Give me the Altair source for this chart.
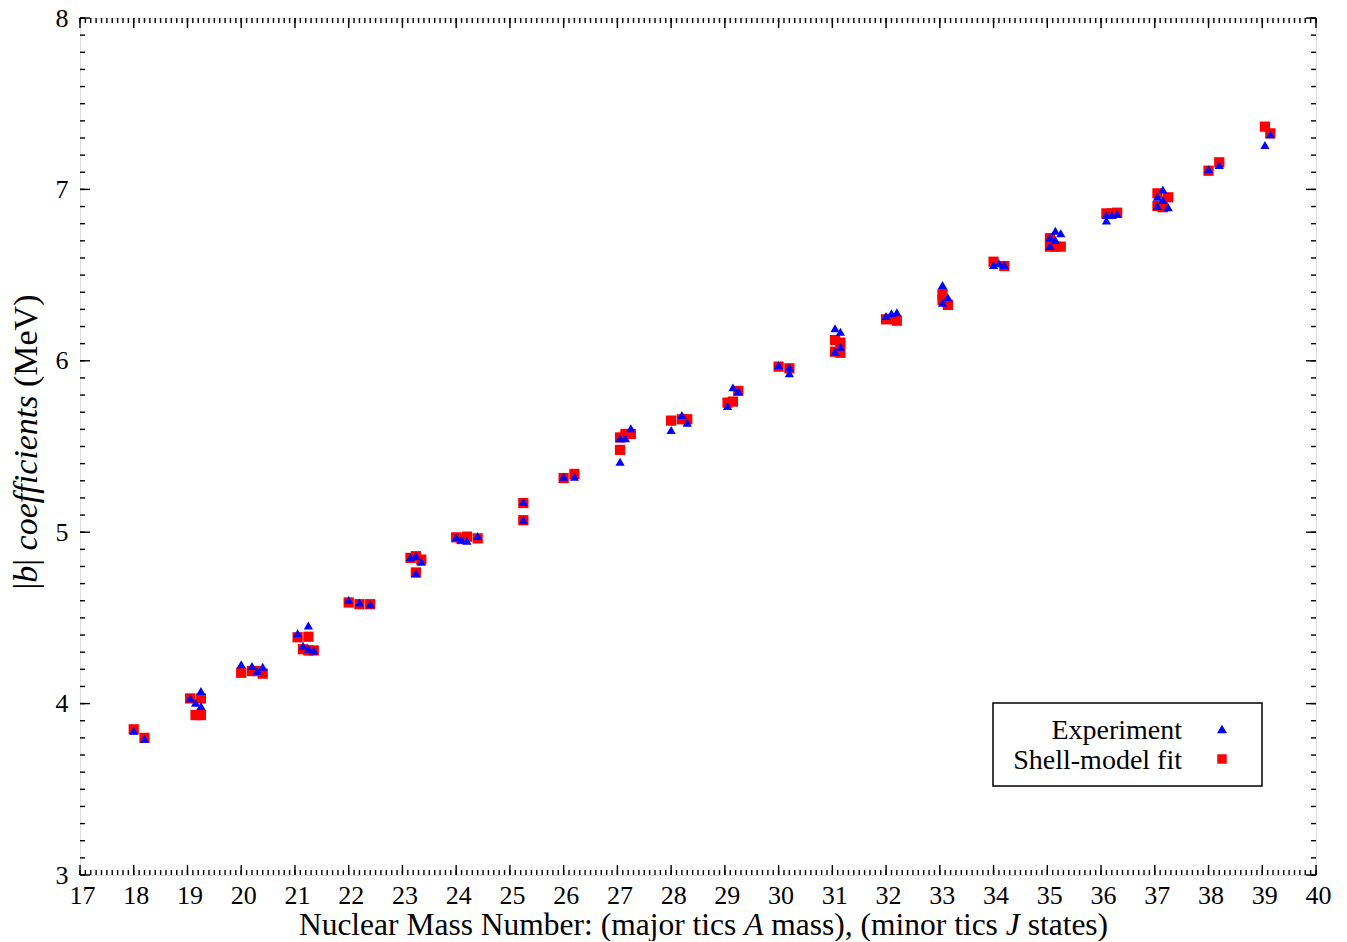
import altair as alt
import pandas as pd

# ---------------- data ----------------
exp_x = [18.0, 18.2,
         19.05, 19.15, 19.25, 19.25,
         20.0, 20.2, 20.3, 20.4,
         21.05, 21.15, 21.25, 21.25, 21.35,
         22.0, 22.2, 22.4,
         23.15, 23.25, 23.35, 23.25,
         24.0, 24.1, 24.2, 24.4,
         25.25, 25.25,
         26.0, 26.2,
         27.05, 27.15, 27.25, 27.05,
         28.0, 28.2, 28.3,
         29.05, 29.15, 29.25,
         30.0, 30.2, 30.2,
         31.05, 31.15, 31.05, 31.15,
         32.0, 32.1, 32.2,
         33.05, 33.15, 33.05,
         34.0, 34.1, 34.2,
         35.05, 35.15, 35.25, 35.05, 35.15,
         36.1, 36.2, 36.3, 36.1,
         37.05, 37.15, 37.15, 37.25, 37.05,
         38.0, 38.2,
         39.05, 39.15]
exp_y = [3.842, 3.795,
         4.031, 4.005, 4.073, 3.986,
         4.230, 4.220, 4.190, 4.215,
         4.410, 4.338, 4.455, 4.320, 4.310,
         4.605, 4.590, 4.580,
         4.854, 4.861, 4.828, 4.760,
         4.970, 4.958, 4.950, 4.978,
         5.178, 5.071,
         5.324, 5.324,
         5.548, 5.548, 5.606, 5.411,
         5.596, 5.684, 5.639,
         5.736, 5.845, 5.824,
         5.975, 5.962, 5.927,
         6.190, 6.170, 6.053, 6.082,
         6.261, 6.277, 6.283,
         6.442, 6.370, 6.339,
         6.559, 6.569, 6.559,
         6.720, 6.759, 6.744, 6.670, 6.705,
         6.818, 6.851, 6.856, 6.851,
         6.957, 7.000, 6.938, 6.896, 6.903,
         7.117, 7.142,
         7.259, 7.321]

fit_x = [18.0, 18.2,
         19.05, 19.15, 19.25, 19.25,
         20.0, 20.2, 20.3, 20.4,
         21.05, 21.25, 21.15, 21.25, 21.35,
         22.0, 22.2, 22.4,
         23.15, 23.25, 23.35, 23.25,
         24.0, 24.1, 24.2, 24.4,
         25.25, 25.25,
         26.0, 26.2,
         27.05, 27.15, 27.25, 27.05,
         28.0, 28.2, 28.3,
         29.05, 29.15, 29.25,
         30.0, 30.2,
         31.05, 31.15, 31.05, 31.15,
         32.0, 32.1, 32.2,
         33.05, 33.15, 33.05,
         34.0, 34.2,
         35.05, 35.25, 35.05, 35.15,
         36.1, 36.2, 36.3,
         37.05, 37.25, 37.05, 37.15,
         38.0, 38.2,
         39.05, 39.15]
fit_y = [3.850, 3.800,
         4.030, 3.933, 3.933, 4.030,
         4.180, 4.190, 4.190, 4.175,
         4.387, 4.390, 4.317, 4.310, 4.310,
         4.590, 4.580, 4.580,
         4.850, 4.860, 4.840, 4.765,
         4.970, 4.960, 4.974, 4.964,
         5.170, 5.070,
         5.316, 5.340,
         5.553, 5.573, 5.573, 5.480,
         5.651, 5.659, 5.659,
         5.756, 5.762, 5.824,
         5.966, 5.956,
         6.121, 6.106, 6.053, 6.047,
         6.242, 6.245, 6.234,
         6.390, 6.326, 6.355,
         6.578, 6.553,
         6.666, 6.666, 6.715, 6.666,
         6.860, 6.860, 6.864,
         6.977, 6.954, 6.903, 6.896,
         7.109, 7.158,
         7.366, 7.327]

x_major = list(range(17, 41))
x_minor = [round(17 + i * 0.1, 2) for i in range(231)]
y_major = [3, 4, 5, 6, 7, 8]
y_minor = [round(3 + i * 0.1, 2) for i in range(51)]

legend_labels = ["Experiment", "Shell-model fit"]

# title pieces: (text, italic?)
x_title_parts = [("Nuclear Mass Number: (major tics ", False), ("A", True),
                 (" mass), (minor tics ", False), ("J", True), (" states)", False)]
y_title_parts = [("|", False), ("b", True), ("| ", False),
                 ("coefficients", True), (" (MeV)", False)]

# ---------------- chart ----------------
W, H = 1236, 857
FONT = "Liberation Serif"
FS = 26

# Times-compatible advance widths (em) for laying out mixed-style titles
REG = {'N': .722, 'u': .5, 'c': .444, 'l': .278, 'e': .444, 'a': .444, 'r': .333,
       ' ': .25, 'M': .889, 's': .389, 'm': .778, 'b': .5, ':': .278, '(': .333,
       ')': .333, 'j': .278, 'o': .5, 't': .278, 'i': .278, ',': .25, 'n': .5,
       '|': .2, 'V': .722}
ITA = {'A': .611, 'J': .444, 'b': .5, 'c': .444, 'o': .5, 'e': .444, 'f': .278,
       'i': .278, 'n': .5, 't': .278, 's': .389, ' ': .25}


def text_width(s, italic, size):
    table = ITA if italic else REG
    return sum(table.get(ch, 0.5) for ch in s) * size


def segments(parts, size):
    """Split parts into (stripped text, italic, offset) with spaces kept as offsets."""
    out = []
    pos = 0.0
    for t, it in parts:
        lead = len(t) - len(t.lstrip(" "))
        core = t.strip(" ")
        trail = len(t) - len(t.rstrip(" "))
        pos += text_width(" " * lead, False, size)
        out.append((core, it, pos))
        pos += text_width(core, it, size) + text_width(" " * trail, False, size)
    return out, pos


xs = alt.Scale(domain=[17, 40], nice=False, zero=False)
ys = alt.Scale(domain=[3, 8], nice=False, zero=False)

xaxis = alt.Axis(values=x_major, ticks=False, domain=False, grid=False,
                 labelFont=FONT, labelFontSize=FS, labelColor="black",
                 labelPadding=7, labelFlush=False, labelOffset=2, title=None)
yaxis = alt.Axis(values=y_major, ticks=False, domain=False, grid=False,
                 labelFont=FONT, labelFontSize=FS, labelColor="black",
                 labelPadding=12, labelFlush=False, title=None)

fit_df = pd.DataFrame({"A": fit_x, "b": fit_y})
exp_df = pd.DataFrame({"A": exp_x, "b": exp_y})

fit_layer = alt.Chart(fit_df).mark_point(shape="square", filled=True, color="#ff0000",
                                         size=105, opacity=1).encode(
    x=alt.X("A:Q", scale=xs, axis=xaxis),
    y=alt.Y("b:Q", scale=ys, axis=yaxis),
)
exp_layer = alt.Chart(exp_df).mark_point(shape="triangle-up", filled=True, color="#0000ff",
                                         size=85, opacity=1).encode(
    x=alt.X("A:Q", scale=xs, axis=xaxis),
    y=alt.Y("b:Q", scale=ys, axis=yaxis),
)


def xticks(vals, length, top):
    y0 = 0 if top else H
    y1 = length if top else H - length
    return alt.Chart(pd.DataFrame({"A": vals})).mark_rule(color="black", strokeWidth=1.4).encode(
        x=alt.X("A:Q", scale=xs, axis=xaxis),
        y=alt.value(y0), y2=alt.value(y1))


def yticks(vals, length, right):
    x0 = W if right else 0
    x1 = W - length if right else length
    return alt.Chart(pd.DataFrame({"b": vals})).mark_rule(color="black", strokeWidth=1.4).encode(
        y=alt.Y("b:Q", scale=ys, axis=yaxis),
        x=alt.value(x0), x2=alt.value(x1))


ticks = [xticks(x_minor, 5, False), xticks(x_minor, 5, True),
         xticks(x_major, 10, False), xticks(x_major, 10, True),
         yticks(y_minor, 5, False), yticks(y_minor, 5, True),
         yticks(y_major, 10, False), yticks(y_major, 10, True)]

one = pd.DataFrame({"k": [0]})
title_layers = []

# x-axis title (mixed roman / italic)
XT_FS = 31.5
segs, total = segments(x_title_parts, XT_FS)
x0 = 623.5 - total / 2
for core, it, off in segs:
    title_layers.append(
        alt.Chart(one).mark_text(align="left", baseline="alphabetic", font=FONT,
                                 fontSize=XT_FS, color="black", text=core,
                                 fontStyle="italic" if it else "normal").encode(
            x=alt.value(x0 + off), y=alt.value(917)))

# y-axis title (rotated, mixed roman / italic)
YT_FS = 34
segs, total = segments(y_title_parts, YT_FS)
y0 = 424 + total / 2
for core, it, off in segs:
    title_layers.append(
        alt.Chart(one).mark_text(align="left", baseline="alphabetic", font=FONT, angle=270,
                                 fontSize=YT_FS, color="black", text=core,
                                 fontStyle="italic" if it else "normal").encode(
            x=alt.value(-43), y=alt.value(y0 - off)))

# legend box (gnuplot style: label, then symbol)
LFS = 28
legend_box = alt.Chart(one).mark_rect(fill="white", stroke="black", strokeWidth=1.5).encode(
    x=alt.value(913), x2=alt.value(1182), y=alt.value(685), y2=alt.value(768))
leg_t1 = alt.Chart(one).mark_text(align="right", baseline="middle", font=FONT, fontSize=LFS,
                                  color="black", text=legend_labels[0]).encode(
    x=alt.value(1102), y=alt.value(713))
leg_t2 = alt.Chart(one).mark_text(align="right", baseline="middle", font=FONT, fontSize=LFS,
                                  color="black", text=legend_labels[1]).encode(
    x=alt.value(1102), y=alt.value(743))
leg_s1 = alt.Chart(one).mark_point(shape="triangle-up", filled=True, color="#0000ff",
                                   size=100, opacity=1).encode(
    x=alt.value(1142), y=alt.value(711))
leg_s2 = alt.Chart(one).mark_point(shape="square", filled=True, color="#ff0000",
                                   size=90, opacity=1).encode(
    x=alt.value(1142), y=alt.value(741))

chart = alt.layer(
    *ticks, fit_layer, exp_layer, *title_layers,
    legend_box, leg_t1, leg_t2, leg_s1, leg_s2
).properties(
    width=W, height=H,
    padding={"left": 72, "top": 10, "right": 23, "bottom": 66},
    autosize=alt.AutoSizeParams(type="none"),
).configure_view(
    stroke="black", strokeWidth=2
).configure(background="white")

chart.save("out.html", embed_options={"renderer": "svg", "actions": False})
